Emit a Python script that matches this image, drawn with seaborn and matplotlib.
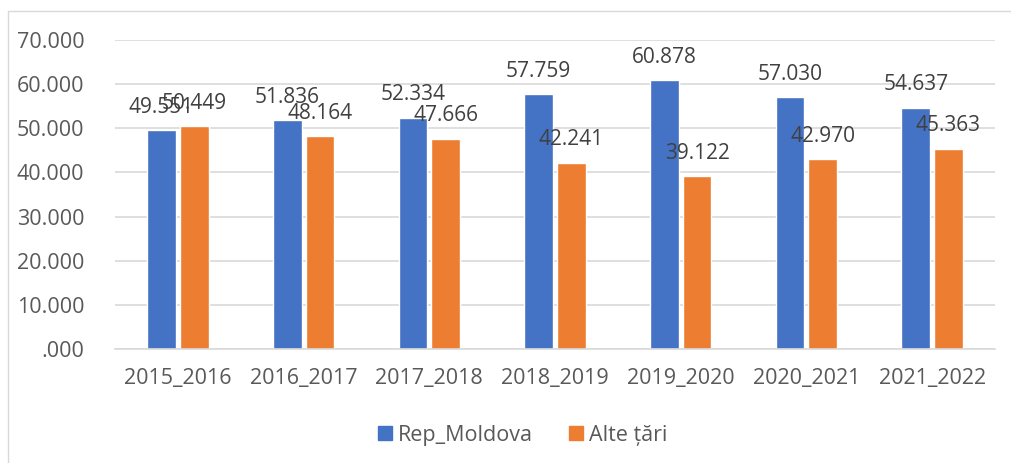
import pandas as pd
import matplotlib
matplotlib.use("Agg")
import matplotlib.pyplot as plt
import seaborn as sns
from matplotlib.lines import Line2D

sns.set_style("white")
plt.rcParams['font.family'] = ['Open Sans', 'DejaVu Sans']

# data
years = ['2015_2016', '2016_2017', '2017_2018', '2018_2019', '2019_2020', '2020_2021', '2021_2022']
rep_moldova = [49.551, 51.836, 52.334, 57.759, 60.878, 57.030, 54.637]
alte_tari = [50.449, 48.164, 47.666, 42.241, 39.122, 42.970, 45.363]
series_names = ['Rep_Moldova', 'Alte țări']
y_ticks = [0, 10, 20, 30, 40, 50, 60, 70]
y_tick_labels = ['.000', '10.000', '20.000', '30.000', '40.000', '50.000', '60.000', '70.000']

df = pd.DataFrame({
    'an': years * 2,
    'valoare': rep_moldova + alte_tari,
    'serie': [series_names[0]] * len(years) + [series_names[1]] * len(years),
})

W, H = 1011, 463
fig = plt.figure(figsize=(W / 100, H / 100), dpi=100)
ax = fig.add_axes([115 / W, 114 / H, 880 / W, 309 / H])

colors = ['#4472C4', '#ED7D31']
sns.barplot(data=df, x='an', y='valoare', hue='serie', palette=colors,
            width=0.52, gap=0.12, ax=ax, legend=False, saturation=1)

# data labels (Excel style, above each bar)
for cont in ax.containers:
    vals = [b.get_height() for b in cont]
    ax.bar_label(cont, labels=[f"{v:.3f}" for v in vals], padding=9,
                 fontsize=15, color='#404040')

ax.set_ylim(0, 70)
ax.set_xlim(-0.5, len(years) - 0.5)
ax.set_yticks(y_ticks)
ax.set_yticklabels(y_tick_labels)
ax.set_xlabel('')
ax.set_ylabel('')
ax.grid(axis='y', color='#d9d9d9', linewidth=1.2)
ax.set_axisbelow(True)
for s in ['top', 'right', 'left']:
    ax.spines[s].set_visible(False)
ax.spines['bottom'].set_color('#d9d9d9')
ax.spines['bottom'].set_linewidth(1.2)
ax.tick_params(axis='both', length=0, labelsize=15.5, labelcolor='#595959')
ax.tick_params(axis='x', pad=14)
ax.tick_params(axis='y', pad=22)

# legend
handles = [Line2D([0], [0], marker='s', linestyle='', markersize=10,
                  markerfacecolor=c, markeredgecolor=c) for c in colors]
fig.legend(handles, series_names, loc='center', bbox_to_anchor=(521 / W, 28 / H),
           ncol=2, frameon=False, fontsize=15.5, labelcolor='#595959',
           handletextpad=0.1, columnspacing=1.5, handlelength=1.0)

# outer chart border
fig.add_artist(Line2D([8 / W, 8 / W], [0, 1 - 11 / H], transform=fig.transFigure,
                      color='#d9d9d9', linewidth=1))
fig.add_artist(Line2D([8 / W, 1], [1 - 11 / H, 1 - 11 / H], transform=fig.transFigure,
                      color='#d9d9d9', linewidth=1))

fig.savefig('out.png', dpi=100, facecolor='white')
